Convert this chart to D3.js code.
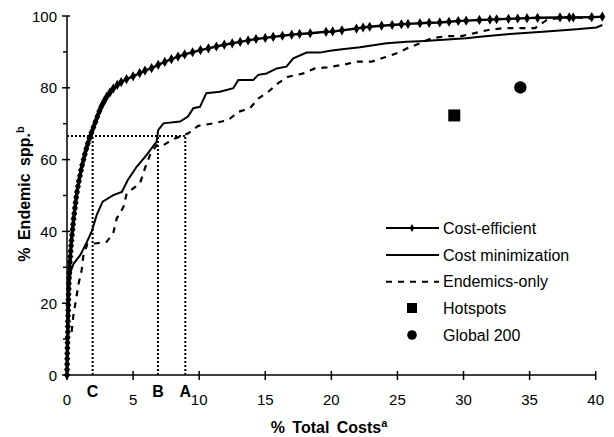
<!DOCTYPE html>
<html>
<head>
<meta charset="utf-8">
<script src="https://cdn.jsdelivr.net/npm/d3@7"></script>
<style>
  body { margin: 0; background: #fff; }
  text { font-family: "Liberation Sans", Arial, sans-serif; fill: #000; }
</style>
</head>
<body>
<div id="chart"></div>
<script>
// cost-efficient curve: [% total costs, % endemic spp.]
const costEfficient = [
  [0,0],[0.005,1.5],[0.01,3],[0.015,4.5],[0.02,6],[0.03,7.5],[0.04,9],[0.05,10.5],[0.06,12],[0.065,13.5],
  [0.07,15],[0.08,16.5],[0.09,18],[0.1,19.5],[0.11,21],[0.12,22.5],[0.13,24],[0.14,25.5],[0.16,27],
  [0.18,28.5],[0.2,30],[0.22,31.5],[0.25,33],[0.28,34.5],[0.31,36],[0.34,37.5],[0.38,39],[0.42,40.5],
  [0.46,42],[0.5,43.5],[0.55,45],[0.6,46.5],[0.65,48],[0.7,49.5],[0.76,51],[0.83,52.5],[0.9,54],
  [0.98,55.5],[1.06,57],[1.15,58.5],[1.25,60],[1.35,61.5],[1.46,63],[1.58,64.5],[1.7,66],[1.85,67.5],
  [2.0,69],[2.15,70.5],[2.3,72],[2.45,73.5],[2.6,74.8],[2.8,76.2],[3.0,77.5],[3.25,78.7],[3.5,79.8],
  [3.8,80.8],[4.1,81.6],[4.5,82.4],[5.0,83.2],[5.5,84.1],[5.9,84.8],[6.4,85.5],[6.9,86.4],[7.4,87.2],
  [7.9,88],[8.4,88.7],[8.9,89.3],[9.5,89.9],[10.1,90.5],[10.7,91],[11.3,91.5],[11.9,92],[12.5,92.4],
  [13.1,92.8],[13.7,93.2],[14.3,93.6],[15.0,93.9],[15.6,94.2],[16.3,94.5],[17.0,94.8],[17.6,95],
  [18.4,95.2],[19.6,95.6],[20.1,95.7],[20.8,96],[21.9,96.5],[22.4,96.8],[22.9,97],[23.8,97.3],
  [24.6,97.5],[25.3,97.7],[25.8,97.8],[26.7,98],[27.4,98.1],[28.2,98.2],[28.9,98.4],[29.6,98.6],
  [30.2,98.7],[31.2,98.9],[32,99],[32.5,99.1],[33.4,99.2],[34.1,99.3],[34.8,99.4],[35.6,99.5],
  [37.3,99.6],[38,99.6],[38.3,99.6],[39.7,99.7],[40.5,99.8]
];

const costMinimization = [
  [0,12],[0.15,25],[0.3,29],[0.5,31],[1.0,33.4],[1.5,37],[1.87,40],[2.25,44.6],[2.7,48.3],[3.5,50.1],
  [4.15,51],[4.6,54.3],[5.27,58],[6.03,61.3],[6.78,65],[6.9,68.2],[7.0,68.7],[7.3,70.1],[8.55,70.6],
  [9.15,72],[9.56,74.3],[10.06,74.7],[10.54,78.5],[11.57,78.9],[12.58,79.9],[12.96,82.2],[14.1,82.2],
  [14.47,83.6],[15.1,84],[15.86,85.4],[16.6,85.9],[17.12,88.2],[18.13,89.8],[19.14,89.8],[19.9,90.3],
  [20.65,90.7],[22.16,91.3],[24.18,92.4],[25.7,92.8],[26.7,93],[28.2,93.3],[30.2,93.8],[31.24,94.2],
  [33.5,95],[36,95.6],[38.55,96.3],[40.06,96.8],[40.5,97.5]
];

const endemicsOnly = [
  [0.35,12],[0.48,16.5],[0.68,20.9],[0.85,25],[1.11,29.2],[1.23,33],[1.54,36.5],[2.25,36.7],[3.0,37.1],
  [3.5,39.5],[3.76,43.6],[4.26,46.7],[4.52,50.6],[5.52,53.4],[5.9,57.6],[6.28,61.3],[6.78,64],[7.28,64],
  [8.17,65.9],[9.18,67.3],[9.93,69.4],[11.07,70.1],[12.2,71],[12.96,73.3],[13.84,74.3],[14.47,77],
  [15.23,78.9],[15.98,81.3],[16.74,83.1],[17.88,84],[18.76,85.4],[19.65,85.7],[20.9,86.4],[21.92,87.3],
  [23.06,87.3],[24.06,88.5],[24.94,89.6],[25.74,91],[26.7,92.4],[27.59,93.8],[28.72,94.4],[29.86,94.4],
  [30.2,94.7],[31.87,96.1],[33,96.6],[34.1,96.6],[35.4,96.6],[36.3,98.9],[37.54,99.6],[38.55,99.6],[39.8,99.2]
];

const hotspots = [[29.3, 72.3]];
const global200 = [[34.3, 80.1]];

// reference cuts: label, % total costs
const cuts = [["C", 1.94], ["B", 6.88], ["A", 8.95]];
const cutLevel = 66.6;

const xTicks = [0, 5, 10, 15, 20, 25, 30, 35, 40];
const yTicks = [0, 20, 40, 60, 80, 100];
const yMinor = [10, 30, 50, 70, 90];

const legendItems = ["Cost-efficient", "Cost minimization", "Endemics-only", "Hotspots", "Global 200"];

const W = 614, H = 437;
const svg = d3.select("#chart").append("svg")
  .attr("width", W).attr("height", H);

const x = d3.scaleLinear().domain([0, 40]).range([67, 595.7]);
const y = d3.scaleLinear().domain([0, 100]).range([375, 16]);

const line = d3.line().x(d => x(d[0])).y(d => y(d[1]));

// dotted guide lines
svg.append("line")
  .attr("x1", x(0)).attr("x2", x(cuts[2][1]))
  .attr("y1", y(cutLevel)).attr("y2", y(cutLevel))
  .attr("stroke", "#000").attr("stroke-width", 2).attr("stroke-dasharray", "2,2");
svg.selectAll(".cut").data(cuts).enter().append("line")
  .attr("class", "cut")
  .attr("x1", d => x(d[1])).attr("x2", d => x(d[1]))
  .attr("y1", y(0)).attr("y2", y(cutLevel))
  .attr("stroke", "#000").attr("stroke-width", 2).attr("stroke-dasharray", "2,2");

// curves
svg.append("path").datum(endemicsOnly)
  .attr("d", line).attr("fill", "none").attr("stroke", "#000")
  .attr("stroke-width", 2.2).attr("stroke-dasharray", "6,6");
svg.append("path").datum(costMinimization)
  .attr("d", line).attr("fill", "none").attr("stroke", "#000").attr("stroke-width", 2);
svg.append("path").datum(costEfficient)
  .attr("d", line).attr("fill", "none").attr("stroke", "#000").attr("stroke-width", 2.4);

const diamond = d3.symbol().type(d3.symbolDiamond).size(30);
svg.selectAll(".ce").data(costEfficient).enter().append("path")
  .attr("class", "ce")
  .attr("transform", d => `translate(${x(d[0])},${y(d[1])})`)
  .attr("d", diamond).attr("fill", "#000");

svg.selectAll(".hs").data(hotspots).enter().append("rect")
  .attr("x", d => x(d[0]) - 6).attr("y", d => y(d[1]) - 6)
  .attr("width", 12).attr("height", 12).attr("fill", "#000");
svg.selectAll(".g200").data(global200).enter().append("circle")
  .attr("cx", d => x(d[0])).attr("cy", d => y(d[1])).attr("r", 6.2).attr("fill", "#000");

// axes
const xAxis = svg.append("g");
xAxis.append("line").attr("x1", x(0)).attr("x2", x(40))
  .attr("y1", y(0)).attr("y2", y(0)).attr("stroke", "#000").attr("stroke-width", 1.5);
xAxis.selectAll(".xt").data(xTicks).enter().append("line")
  .attr("x1", d => x(d)).attr("x2", d => x(d))
  .attr("y1", y(0) - 4).attr("y2", y(0) + 5).attr("stroke", "#000").attr("stroke-width", 1.5);
xAxis.selectAll(".xl").data(xTicks).enter().append("text")
  .attr("x", d => x(d)).attr("y", 405)
  .attr("text-anchor", "middle").style("font-size", "15px").text(d => d);

const yAxis = svg.append("g");
yAxis.append("line").attr("x1", x(0)).attr("x2", x(0))
  .attr("y1", y(0)).attr("y2", y(100)).attr("stroke", "#000").attr("stroke-width", 1.5);
yAxis.selectAll(".yt").data(yTicks).enter().append("line")
  .attr("x1", x(0) - 5).attr("x2", x(0) + 3)
  .attr("y1", d => y(d)).attr("y2", d => y(d)).attr("stroke", "#000").attr("stroke-width", 1.5);
yAxis.selectAll(".ym").data(yMinor).enter().append("line")
  .attr("x1", x(0) - 4).attr("x2", x(0))
  .attr("y1", d => y(d)).attr("y2", d => y(d)).attr("stroke", "#000").attr("stroke-width", 1.5);
yAxis.selectAll(".yl").data(yTicks).enter().append("text")
  .attr("x", 57).attr("y", d => y(d) + 5.5)
  .attr("text-anchor", "end").style("font-size", "15px").text(d => d);

// cut letters
svg.selectAll(".cl").data(cuts).enter().append("text")
  .attr("x", d => x(d[1])).attr("y", 397)
  .attr("text-anchor", "middle").style("font-size", "16px").style("font-weight", "bold")
  .text(d => d[0]);

// axis titles
const xt = svg.append("text").attr("x", 329).attr("y", 433)
  .attr("text-anchor", "middle").style("font-size", "16px").style("font-weight", "bold")
  .style("word-spacing", "3px");
xt.append("tspan").text("% Total Costs");
xt.append("tspan").attr("dy", -6).style("font-size", "11px").text("a");

const yt = svg.append("text").attr("transform", "translate(30,194) rotate(-90)")
  .attr("text-anchor", "middle").style("font-size", "16px").style("font-weight", "bold")
  .style("word-spacing", "3px");
yt.append("tspan").text("% Endemic spp.");
yt.append("tspan").attr("dy", -6).style("font-size", "11px").text("b");

// legend
const legendY = [228, 255, 281.7, 308, 335];
const lg = svg.append("g");
legendItems.forEach((name, i) => {
  const ly = legendY[i];
  if (i < 3) {
    lg.append("line").attr("x1", 386).attr("x2", 439).attr("y1", ly).attr("y2", ly)
      .attr("stroke", "#000").attr("stroke-width", 2)
      .attr("stroke-dasharray", i === 2 ? "6,6" : null);
  }
  if (i === 0) {
    lg.append("path").attr("transform", `translate(412,${ly})`)
      .attr("d", d3.symbol().type(d3.symbolDiamond).size(18)).attr("fill", "#000");
  } else if (i === 3) {
    lg.append("rect").attr("x", 407).attr("y", ly - 5).attr("width", 10).attr("height", 10).attr("fill", "#000");
  } else if (i === 4) {
    lg.append("circle").attr("cx", 412).attr("cy", ly).attr("r", 4.8).attr("fill", "#000");
  }
  lg.append("text").attr("x", 443).attr("y", ly + 5.5)
    .style("font-size", "16px").text(name);
});
</script>
</body>
</html>
